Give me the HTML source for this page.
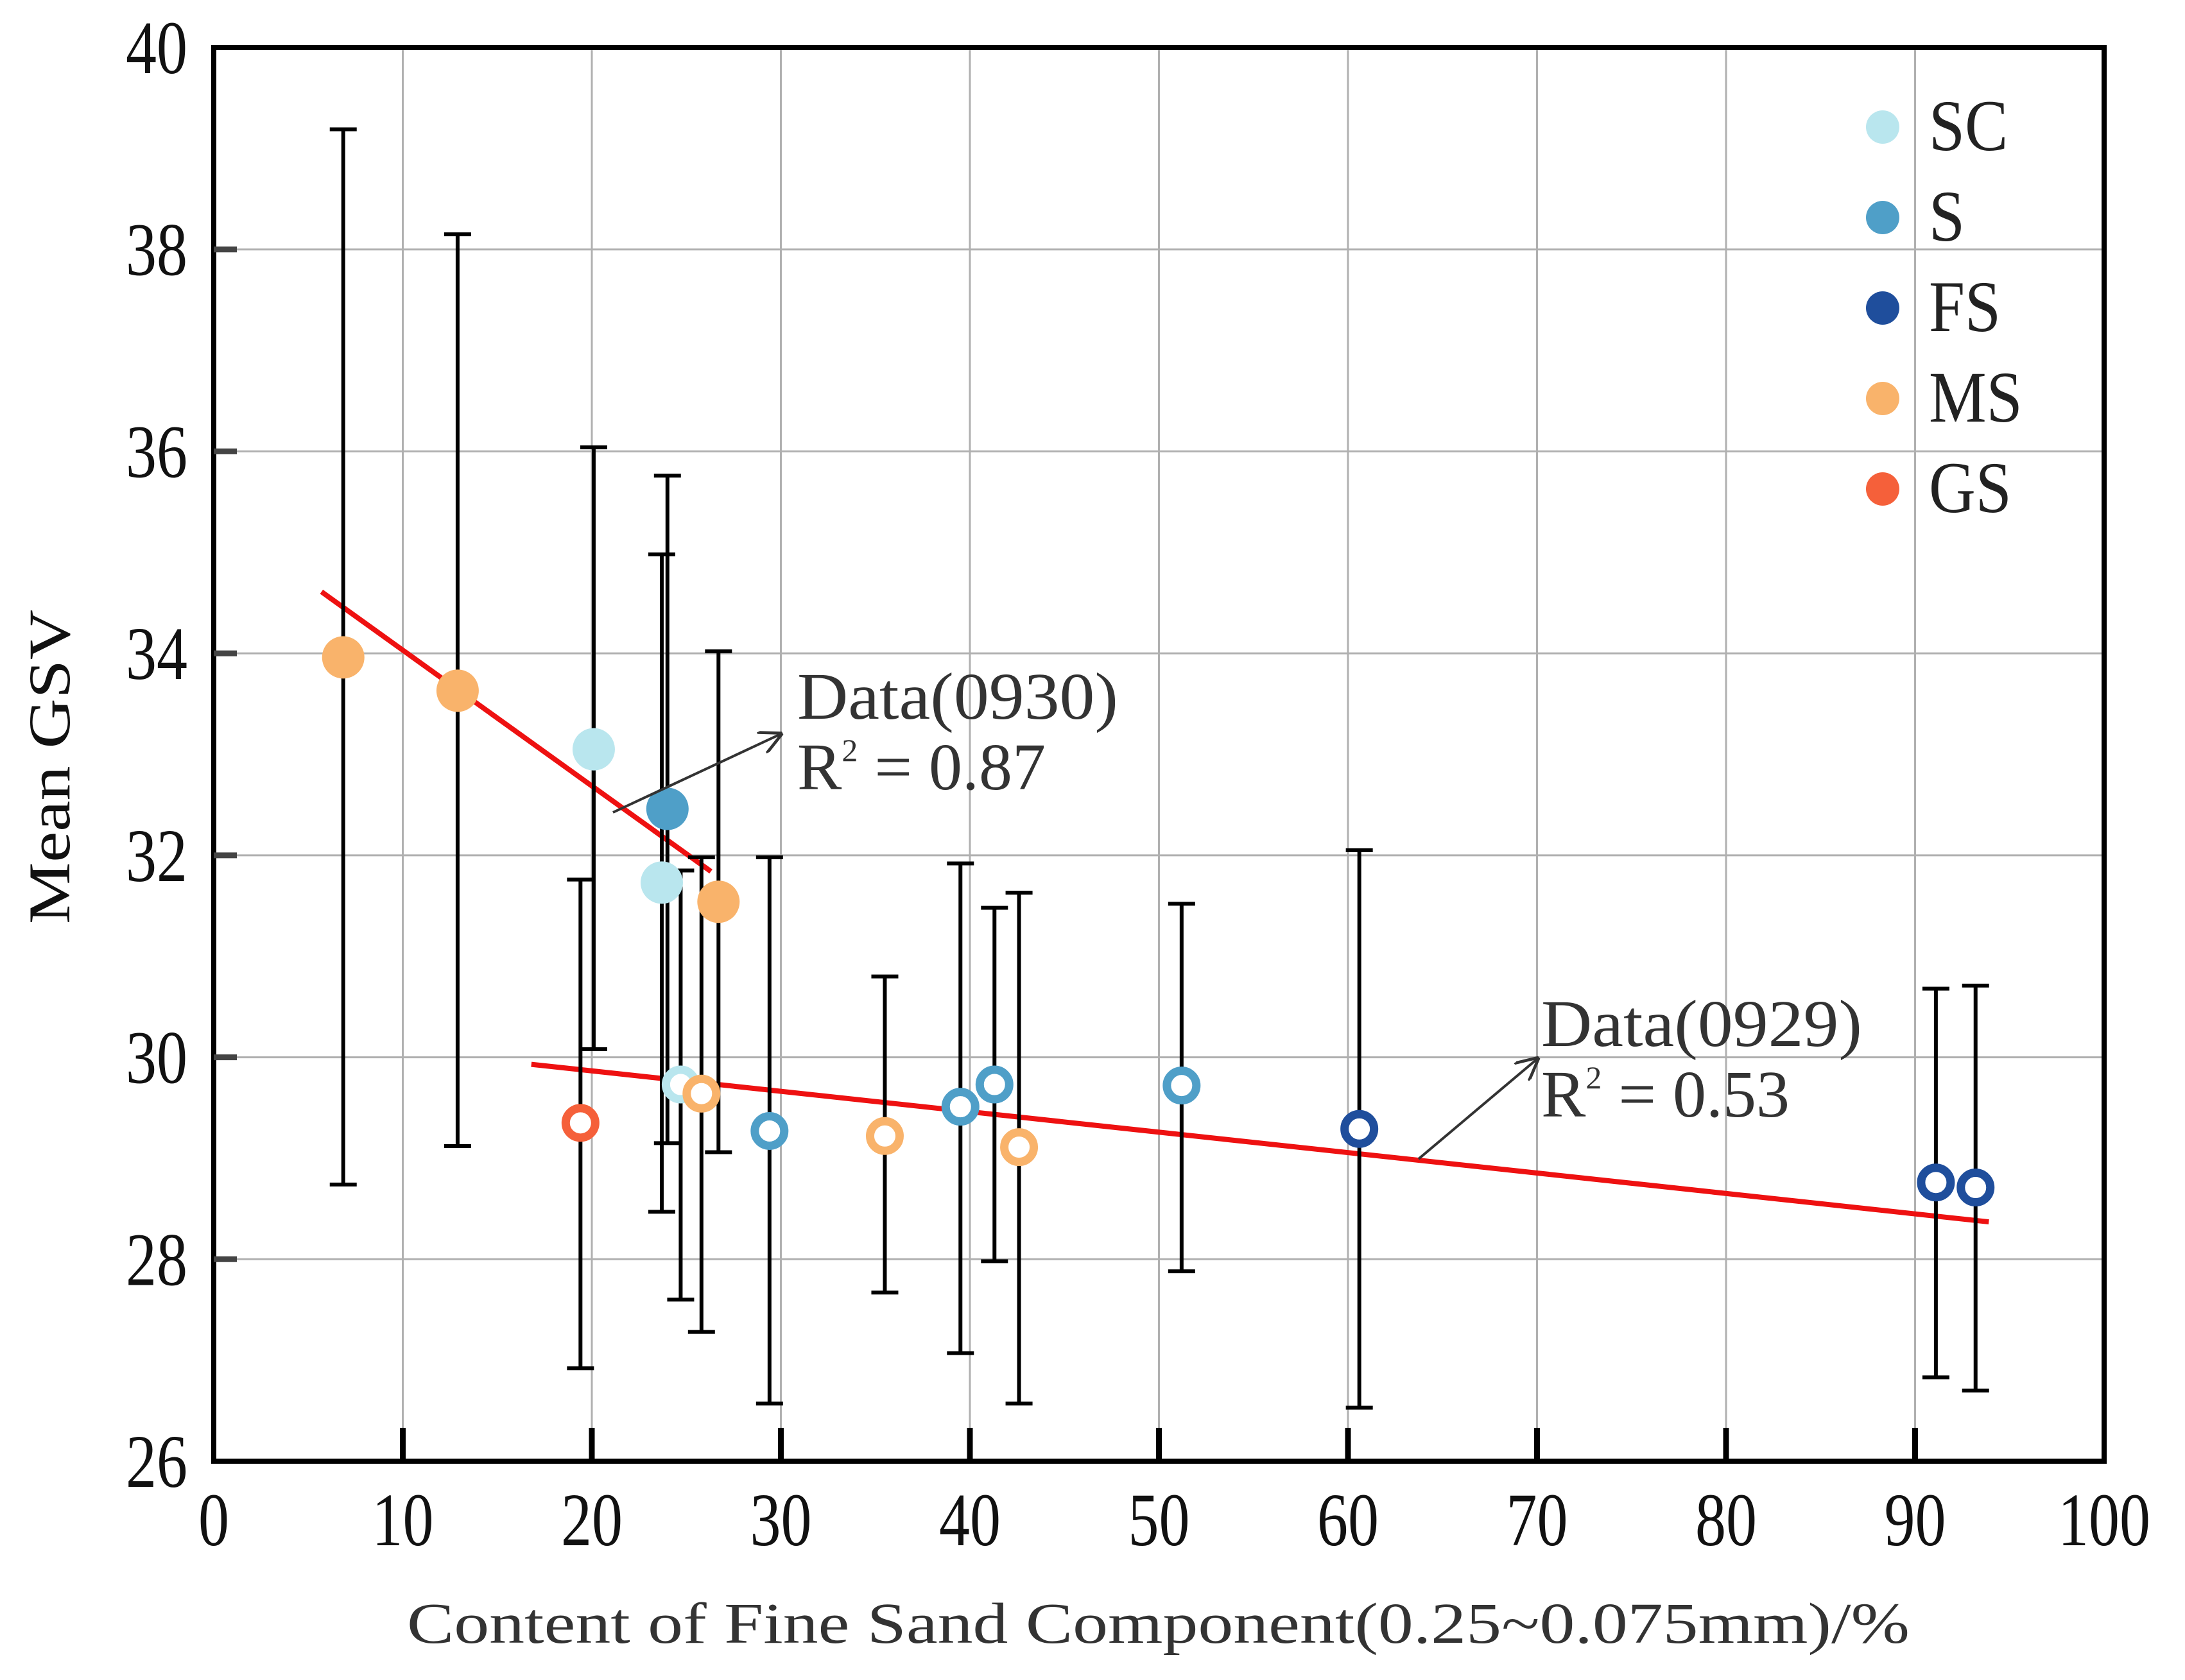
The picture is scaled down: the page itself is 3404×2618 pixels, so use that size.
<!DOCTYPE html>
<html><head><meta charset="utf-8"><style>
html,body{margin:0;padding:0;background:#fff}
svg{display:block}
text{font-family:"Liberation Serif",serif}
</style></head><body>
<svg id="chart" width="3404" height="2618" viewBox="0 0 3404 2618" xmlns="http://www.w3.org/2000/svg">
<g id="grid"></g>
<g id="fits"></g>
<g id="errs"></g>
<g id="pts"></g>
<g id="axes"></g>
<g id="legend"></g>
<g id="ann"></g>
</svg>
<script>
const xTicks=[0,10,20,30,40,50,60,70,80,90,100];
const yTicks=[26,28,30,32,34,36,38,40];
const groups=['SC','S','FS','MS','GS'];
const groupColors=['#b9e6ee','#4f9fc8','#1f4e9c','#f9b36b','#f5603a'];
// filled points (Data 0930)
const fX=[6.85,12.9,20.1,24.0,23.7,26.7];
const fY=[33.96,33.63,33.05,32.46,31.73,31.54];
const fHi=[39.19,38.15,36.04,35.76,34.98,34.02];
const fLo=[28.74,29.12,30.08,29.15,28.47,29.06];
const fG=['MS','MS','SC','S','SC','MS'];
// hollow points (Data 0929)
const hX=[19.4,24.7,25.8,29.4,35.5,39.5,41.3,42.6,51.2,60.6,91.1,93.2];
const hY=[29.35,29.73,29.64,29.27,29.22,29.51,29.73,29.11,29.72,29.29,28.76,28.71];
const hHi=[31.76,31.85,31.98,31.98,30.80,31.92,31.48,31.63,31.52,32.05,30.68,30.71];
const hLo=[26.92,27.60,27.28,26.57,27.67,27.07,27.98,26.57,27.88,26.53,26.83,26.70];
const hG=['GS','SC','MS','S','MS','S','S','MS','S','FS','FS','FS'];
const fit1X=[5.7,26.3], fit1Y=[34.61,31.84];
const fit2X=[16.8,93.9], fit2Y=[29.93,28.37];

const L=333,R=3278,T=74,B=2277;
const sx=v=>L+(v-0)/100*(R-L);
const sy=v=>B-(v-26)/14*(B-T);
const NS='http://www.w3.org/2000/svg';
function mk(parent,tag,attrs,txt){const e=document.createElementNS(NS,tag);for(const k in attrs)e.setAttribute(k,attrs[k]);if(txt!==undefined)e.textContent=txt;document.getElementById(parent).appendChild(e);return e;}
const col=g=>groupColors[groups.indexOf(g)];
// stretched text helper: x,y baseline position, sx/sy scale
function stxt(parent,x,y,size,anchor,fill,txt,kx,ky){return mk(parent,'text',{x:0,y:0,'font-size':size,'text-anchor':anchor,fill:fill,transform:`translate(${x},${y}) scale(${kx},${ky})`},txt);}

xTicks.forEach(t=>{if(t>0&&t<100){const e=mk('grid','line',{x1:sx(t),x2:sx(t),y1:T,y2:B,stroke:'#b0b0b0','stroke-width':3});

}});
yTicks.forEach(t=>{if(t>26&&t<40){const e=mk('grid','line',{x1:L,x2:R,y1:sy(t),y2:sy(t),stroke:'#b0b0b0','stroke-width':3});

}});

[[fit1X,fit1Y,'fit-line-0930'],[fit2X,fit2Y,'fit-line-0929']].forEach(([xs,ys,n])=>{const e=mk('fits','line',{x1:sx(xs[0]),y1:sy(ys[0]),x2:sx(xs[1]),y2:sy(ys[1]),stroke:'#ee1111','stroke-width':8});

});

function err(x,hi,lo){const X=sx(x);
const g=mk('errs','g',{stroke:'#000','stroke-width':6});


[[X,sy(hi),X,sy(lo)],[X-21,sy(hi),X+21,sy(hi)],[X-21,sy(lo),X+21,sy(lo)]].forEach(a=>{const l=document.createElementNS(NS,'line');l.setAttribute('x1',a[0]);l.setAttribute('y1',a[1]);l.setAttribute('x2',a[2]);l.setAttribute('y2',a[3]);g.appendChild(l);});}
hX.forEach((x,i)=>err(x,hHi[i],hLo[i]));
fX.forEach((x,i)=>err(x,fHi[i],fLo[i]));
hX.forEach((x,i)=>{const e=mk('pts','circle',{cx:sx(x),cy:sy(hY[i]),r:23,fill:'#fff',stroke:col(hG[i]),'stroke-width':13});

});
fX.forEach((x,i)=>{const e=mk('pts','circle',{cx:sx(x),cy:sy(fY[i]),r:33,fill:col(fG[i])});

});

let fr=mk('axes','rect',{x:L,y:T,width:R-L,height:B-T,fill:'none',stroke:'#000','stroke-width':8});


xTicks.forEach(t=>{if(t>0&&t<100){const e=mk('axes','line',{x1:sx(t),x2:sx(t),y1:B,y2:B-52,stroke:'#000','stroke-width':9});

}
const tx=stxt('axes',sx(t),2408,96,'middle','#111',String(t),1.0,1.22);

});
yTicks.forEach(t=>{if(t>26&&t<40){const e=mk('axes','line',{x1:L,x2:L+36,y1:sy(t),y2:sy(t),stroke:'#444','stroke-width':9});

}
const tx=stxt('axes',292,sy(t)+40,96,'end','#111',String(t),1.0,1.22);

});
let xt=mk('axes','text',{x:634,y:2560,'font-size':90,fill:'#333',textLength:2341,lengthAdjust:'spacingAndGlyphs'},'Content of  Fine Sand Component(0.25~0.075mm)/%');


let yt=mk('axes','text',{x:0,y:0,'font-size':92,fill:'#111','text-anchor':'middle',transform:'translate(108,1195) rotate(-90)',textLength:490,lengthAdjust:'spacingAndGlyphs'},'Mean  GSV');



groups.forEach((g,i)=>{const y=198+i*141;
const c=mk('legend','circle',{cx:2933,cy:y,r:26,fill:groupColors[i]});


const t=stxt('legend',3005,y+36,96,'start','#222',g,1.05,1.18);

});

mk('ann','defs',{}).innerHTML='<marker id="ah" markerWidth="36" markerHeight="36" refX="9" refY="5" orient="auto" markerUnits="userSpaceOnUse" viewBox="0 0 10 10"><path d="M0,0 L10,5 L0,10" fill="none" stroke="#333" stroke-width="1.3"/></marker>';
function ann(x1,y1,x2,y2,tx,ty,label,r2,name){
const a=mk('ann','line',{x1:x1,y1:y1,x2:x2,y2:y2,stroke:'#333','stroke-width':4,'marker-end':'url(#ah)'});


const t=mk('ann','text',{x:tx,y:ty,'font-size':104,fill:'#333',textLength:500,lengthAdjust:'spacingAndGlyphs'},label);


const r=mk('ann','text',{x:tx,y:ty+110,'font-size':104,fill:'#333'});
r.innerHTML='R<tspan font-size="50" dy="-44">2</tspan><tspan dy="44"> = '+r2+'</tspan>';

}
ann(955,1266,1216,1144,1242,1120,'Data(0930)','0.87','annotation-0930');
ann(2210,1806,2395,1650,2401,1630,'Data(0929)','0.53','annotation-0929');
</script>
</body></html>
